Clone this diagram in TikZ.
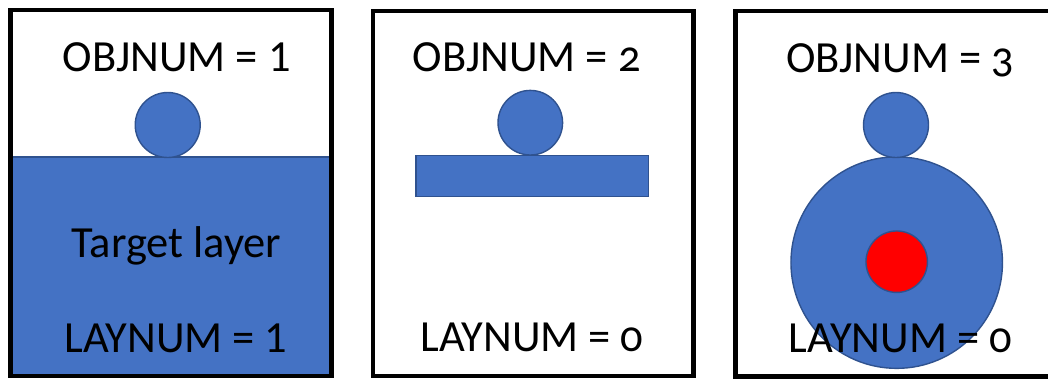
\documentclass[tikz,border=0pt]{standalone}
\usepackage{fontspec}
\setmainfont{Carlito}[Numbers=OldStyle]
\newfontfamily\liningfig{Carlito}[Numbers=Lining]
\definecolor{layerblue}{HTML}{4472C4}
\definecolor{edgeblue}{HTML}{2F528F}
\definecolor{pinred}{HTML}{FF0000}
\begin{document}
\begin{tikzpicture}[x=1pt,y=-1pt,
  panel/.style={draw=black,line width=4.3pt},
  solid shape/.style={fill=layerblue,draw=edgeblue,line width=1.4pt},
  label/.style={anchor=base,inner sep=0pt,font=\fontsize{44.5}{52}\selectfont}]
\useasboundingbox (0,0) rectangle (1048,378);

% --- first case: object sitting on the target layer
\fill[layerblue] (12,157) rectangle (330,374);
\draw[edgeblue,line width=2pt] (12,157) -- (330,157);
\node[solid shape,circle,minimum size=65pt,inner sep=0pt] (objA) at (167.7,125) {};
\node[label] (objnumA) at (176.7,71) {OBJNUM = {\liningfig 1}};
\node[label] (layerA) at (176.5,257) {Target layer};
\node[label] (laynumA) at (176,352) {LAYNUM = {\liningfig 1}};
\draw[panel] (10.5,10) rectangle (331.5,376);

% --- second case: object sitting on a plain bar
\node[solid shape,rectangle,minimum width=232.7pt,minimum height=41pt,inner sep=0pt] (barB) at (532.3,176.2) {};
\node[solid shape,circle,minimum size=64.6pt,inner sep=0pt] (objB) at (530.3,122.7) {};
\node[label] (objnumB) at (526.7,71.7) {OBJNUM = 2};
\node[label] (laynumB) at (532,351.7) {LAYNUM = 0};
\draw[panel] (373,11) rectangle (693.5,376);

% --- third case: object on a large disc with a red core
\node[solid shape,circle,minimum size=211.5pt,inner sep=0pt] (discC) at (896.7,262.6) {};
\node[solid shape,circle,minimum size=65pt,inner sep=0pt] (objC) at (896,125) {};
\node[solid shape,fill=pinred,circle,minimum size=61.5pt,inner sep=0pt] (coreC) at (896.7,261.7) {};
\node[label] (objnumC) at (900,72) {OBJNUM = 3};
\node[label] (laynumC) at (900.5,352) {LAYNUM = 0};
\draw[panel] (735.5,11) rectangle (1052,376.5);
\end{tikzpicture}
\end{document}
